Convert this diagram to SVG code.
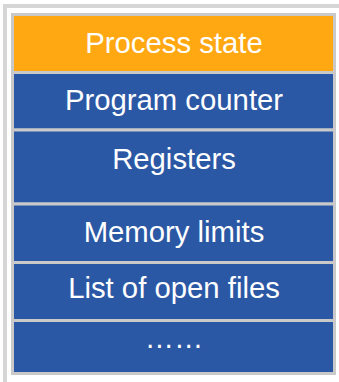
<svg xmlns="http://www.w3.org/2000/svg" width="339" height="382" viewBox="0 0 339 382">
<style>
.cell{stroke:#C9C9C9;stroke-width:3}
.blue{fill:#2B58A5}
.orange{fill:#FFA812}
.lbl{font-family:"Liberation Sans",Arial,sans-serif;font-size:29.3px;fill:#FFFFFF;text-anchor:middle}
</style>
<rect x="0" y="0" width="339" height="382" fill="#FFFFFF"/>
<path d="M5,382 V6 H339" fill="none" stroke="#D6D6D6" stroke-width="4"/>
<g id="process-state">
<rect class="cell orange" x="12.5" y="14.5" width="322" height="58"/>
<text class="lbl" x="174" y="53.3">Process state</text>
</g>
<g id="program-counter">
<rect class="cell blue" x="12.5" y="72.5" width="322" height="57.5"/>
<text class="lbl" x="174" y="110">Program counter</text>
</g>
<g id="registers">
<rect class="cell blue" x="12.5" y="130" width="322" height="74"/>
<text class="lbl" x="174" y="169.3">Registers</text>
</g>
<g id="memory-limits">
<rect class="cell blue" x="12.5" y="204" width="322" height="58.5"/>
<text class="lbl" x="174" y="241.7">Memory limits</text>
</g>
<g id="open-files">
<rect class="cell blue" x="12.5" y="262.5" width="322" height="58"/>
<text class="lbl" x="174" y="298.3">List of open files</text>
</g>
<g id="more">
<rect class="cell blue" x="12.5" y="320.5" width="322" height="53"/>
<text class="lbl" x="174" y="348.3">……</text>
</g>
<g id="connectors"></g>
</svg>
